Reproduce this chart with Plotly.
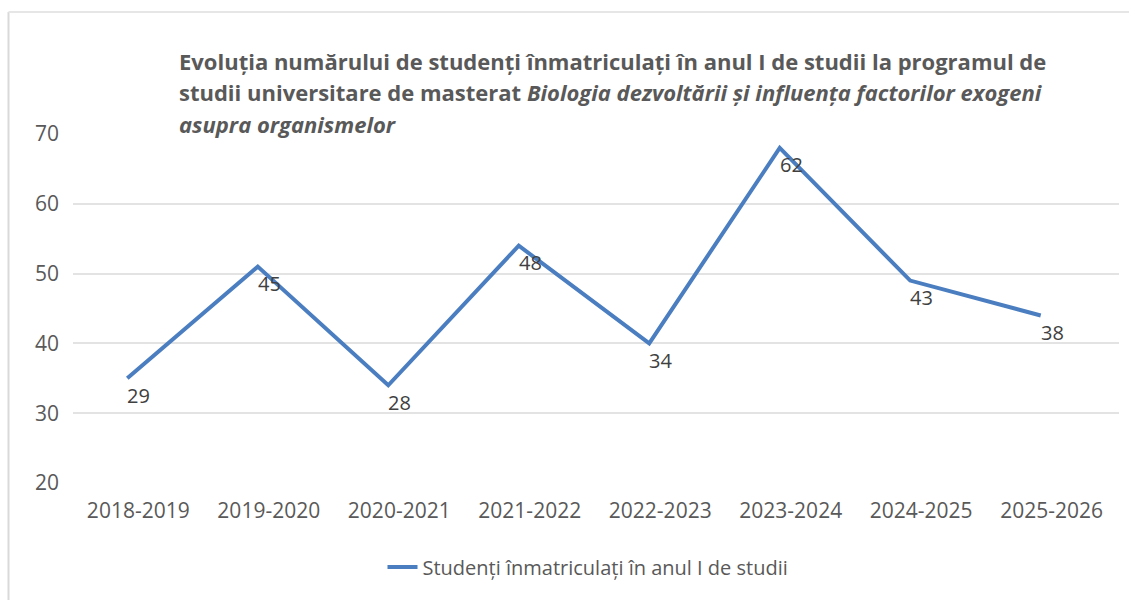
import plotly.graph_objects as go

# ---- data ----
years = ["2018-2019", "2019-2020", "2020-2021", "2021-2022",
         "2022-2023", "2023-2024", "2024-2025", "2025-2026"]
# positions of the line as read against the value axis
line_values = [35, 51, 34, 54, 40, 68, 49, 44]
# data labels printed next to each point
data_labels = [29, 45, 28, 48, 34, 62, 43, 38]
y_ticks = [20, 30, 40, 50, 60, 70]
series_name = "Studenți înmatriculați în anul I de studii"
title_lines = [
    "Evoluția numărului de studenți înmatriculați în anul I de studii la programul de",
    "studii universitare de masterat <i>Biologia dezvoltării și influența factorilor exogeni</i>",
    "<i>asupra organismelor</i>",
]

W, H = 1129, 600
ML, MR, MT, MB = 73, 10, 134, 117
PW = W - ML - MR
PH = H - MT - MB

def px_x(px):
    return (px - ML) / PW

def px_y(py):
    return (H - MB - py) / PH

FONT = "Open Sans"
GREY = "#595959"
BLUE = "#4A7EC0"

xs = list(range(len(years)))

fig = go.Figure()
fig.add_trace(go.Scatter(
    x=xs,
    y=line_values,
    mode="lines",
    name=series_name,
    line=dict(color=BLUE, width=4),
    cliponaxis=False,
))

annotations = []
# data labels
for xv, yv, lab in zip(xs, line_values, data_labels):
    annotations.append(dict(
        x=xv, y=yv, xref="x", yref="y",
        text=str(lab), showarrow=False,
        xanchor="left", yanchor="middle",
        xshift=-2, yshift=-17,
        font=dict(family=FONT, size=20, color="#404040"),
    ))
# title lines
title_y = [61, 92, 124]
for line, yp in zip(title_lines, title_y):
    annotations.append(dict(
        text="<b>" + line + "</b>",
        xref="paper", yref="paper",
        x=px_x(177), y=px_y(yp),
        xanchor="left", yanchor="middle",
        showarrow=False,
        font=dict(family=FONT, size=22, color=GREY),
    ))

fig.update_layout(
    width=W, height=H,
    margin=dict(l=ML, r=MR, t=MT, b=MB),
    paper_bgcolor="white",
    plot_bgcolor="white",
    showlegend=True,
    legend=dict(
        orientation="h",
        x=px_x(588), y=px_y(567),
        xanchor="center", yanchor="middle",
        font=dict(family=FONT, size=20, color=GREY),
        bgcolor="rgba(0,0,0,0)",
    ),
    annotations=annotations,
    shapes=[
        dict(type="line", xref="paper", yref="paper",
             x0=px_x(8.5), x1=px_x(8.5), y0=px_y(12), y1=px_y(620),
             line=dict(color="#D9D9D9", width=2)),
        dict(type="line", xref="paper", yref="paper",
             x0=px_x(8.5), x1=px_x(1140), y0=px_y(12), y1=px_y(12),
             line=dict(color="#E6E6E6", width=2)),
    ],
)

fig.update_xaxes(
    range=[-0.416, 7.60],
    tickmode="array",
    tickvals=xs,
    ticktext=years,
    showgrid=False,
    zeroline=False,
    showline=False,
    ticks="",
    ticklabelstandoff=13,
    ticklabelshift=11,
    tickfont=dict(family=FONT, size=21, color=GREY),
)
fig.update_yaxes(
    range=[20, 70],
    tickmode="array",
    tickvals=y_ticks,
    ticktext=[str(v) for v in y_ticks],
    showgrid=True,
    gridcolor="#E3E3E3",
    gridwidth=2,
    zeroline=False,
    showline=False,
    ticks="",
    ticklabelstandoff=13,
    tickfont=dict(family=FONT, size=21, color=GREY),
)

fig.write_html("out.html",
               config={"displayModeBar": False},
               post_script="document.body.style.margin='0';")
